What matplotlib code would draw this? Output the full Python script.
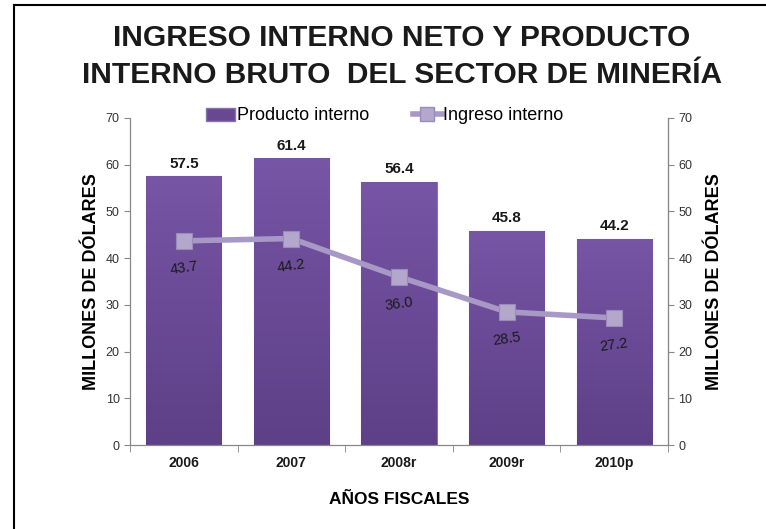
import matplotlib
matplotlib.use("Agg")
import matplotlib.pyplot as plt
import numpy as np
from matplotlib.lines import Line2D
from matplotlib.patches import Patch
from matplotlib.colors import LinearSegmentedColormap
from matplotlib import font_manager as fm

categories = ["2006", "2007", "2008r", "2009r", "2010p"]
producto = [57.5, 61.4, 56.4, 45.8, 44.2]
ingreso = [43.7, 44.2, 36.0, 28.5, 27.2]
yticks = [0, 10, 20, 30, 40, 50, 60, 70]

names = {f.name for f in fm.fontManager.ttflist}
base = "Liberation Sans" if "Liberation Sans" in names else "DejaVu Sans"
plt.rcParams['font.family'] = [base, 'DejaVu Sans']

fig = plt.figure(figsize=(7.66, 5.29), dpi=100)
ax = fig.add_axes([130/766, 1-445/529, (668-130)/766, (445-118)/529])

x = np.arange(len(categories))
bars = ax.bar(x, producto, width=0.70, color="#684891", edgecolor="#8a72ad", linewidth=0.8, zorder=2)

grad = np.linspace(0, 1, 256).reshape(-1, 1)
cmap = LinearSegmentedColormap.from_list("g", ["#5d4087", "#6a4a96", "#7656a5"])
for b in bars:
    xx, yy = b.get_x(), b.get_y()
    w, h = b.get_width(), b.get_height()
    im = ax.imshow(grad, extent=[xx, xx + w, yy, yy + h], origin="lower",
                   aspect="auto", cmap=cmap, zorder=2.1)
    im.set_clip_path(b)

ax.plot(x, ingreso, color="#a898c6", linewidth=4, marker="s", markersize=11,
        markerfacecolor="#b3a7cc", markeredgecolor="#9a8cb8", markeredgewidth=0.8, zorder=4)

for xi, v in zip(x, producto):
    ax.text(xi, v + 1.2, f"{v:.1f}", ha="center", va="bottom", fontsize=11, fontweight="bold", color="#1a1a1a", zorder=5)
for xi, v in zip(x, ingreso):
    ax.text(xi, v - 5.9, f"{v:.1f}", ha="center", va="center", fontsize=10.5, rotation=8, color="#1a1a1a", zorder=5)

ax.set_xlim(-0.5, len(categories) - 0.5)
ax.set_ylim(0, 70)
ax.set_yticks(yticks)
ax.tick_params(axis="y", labelsize=9, colors="#333333", length=4, direction="out", color="#888888")
ax.set_xticks(x)
ax.set_xticklabels(categories, fontsize=10, fontweight="bold")
ax.tick_params(axis="x", length=0, pad=8, colors="#1a1a1a")
ax.set_xticks(np.arange(-0.5, len(categories), 1.0), minor=True)
ax.tick_params(axis="x", which="minor", length=5, color="#888888", direction="out")

ax.spines["top"].set_visible(False)
for s in ["left", "bottom", "right"]:
    ax.spines[s].set_color("#888888")
    ax.spines[s].set_linewidth(0.9)

ax.set_ylabel("MILLONES DE DÓLARES", fontsize=13, fontweight="bold", labelpad=4)
ax.set_xlabel("AÑOS FISCALES", fontsize=12.5, fontweight="bold", labelpad=16)

ax2 = ax.twinx()
ax2.set_ylim(0, 70)
ax2.set_yticks(yticks)
ax2.tick_params(axis="y", labelsize=9, colors="#333333", length=4, direction="out", color="#888888")
for s in ["top", "left", "bottom"]:
    ax2.spines[s].set_visible(False)
ax2.spines["right"].set_color("#888888")
ax2.set_ylabel("MILLONES DE DÓLARES", fontsize=13, fontweight="bold", labelpad=10)

handles = [Patch(facecolor="#684891", edgecolor="#8a72ad"),
           Line2D([0], [0], color="#a898c6", linewidth=4, marker="s", markersize=10,
                  markerfacecolor="#b3a7cc", markeredgecolor="#9a8cb8")]
fig.legend(handles, ["Producto interno", "Ingreso interno"], loc="center",
           bbox_to_anchor=(385/766, 1-116/529), ncol=2, frameon=False, fontsize=13,
           handlelength=1.6, handletextpad=0.1, columnspacing=2.4)

fig.text(402/766, 1-38/529, "INGRESO INTERNO NETO Y PRODUCTO", ha="center", va="center",
         fontsize=21.5, fontweight="bold", color="#1a1a1a")
fig.text(402/766, 1-75/529, "INTERNO BRUTO  DEL SECTOR DE MINERÍA", ha="center", va="center",
         fontsize=21.5, fontweight="bold", color="#1a1a1a")

fig.add_artist(Line2D([14/766, 14/766], [0, 1-5/529], color="black", linewidth=1.5))
fig.add_artist(Line2D([14/766, 1], [1-5/529, 1-5/529], color="black", linewidth=1.5))

fig.savefig("out.png", dpi=100)
